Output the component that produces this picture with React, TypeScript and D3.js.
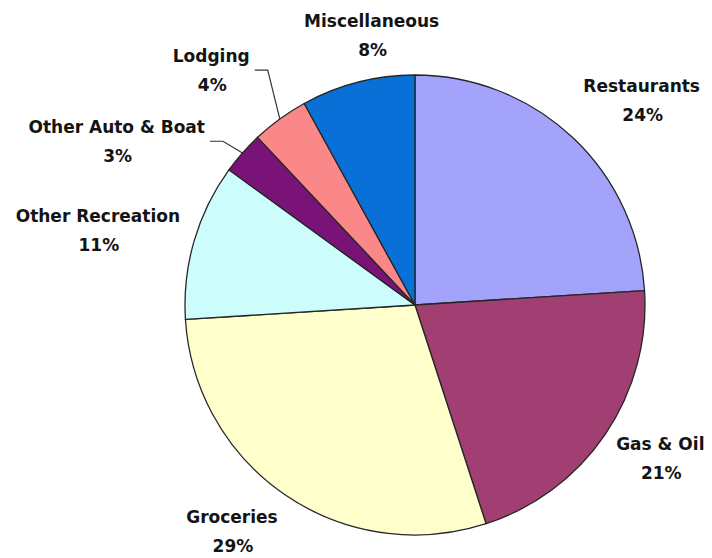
import React, { useEffect, useRef } from "react";
import * as d3 from "d3";

const categories = [
  "Restaurants",
  "Gas & Oil",
  "Groceries",
  "Other Recreation",
  "Other Auto & Boat",
  "Lodging",
  "Miscellaneous",
];
const shares = [24, 21, 29, 11, 3, 4, 8];
const sliceColors = ["#a3a3fc", "#a13f73", "#ffffcc", "#cdfcfc", "#7a1378", "#fa8888", "#0870d6"];
// label layout nudges (px) applied to the outer centroid of each slice
const labelNudge: [number, number][] = [
  [22, 10],
  [-2, -18],
  [-15, -24],
  [-30, 5],
  [-74, 31],
  [-28, 4],
  [31, 17],
];
const hasLeader = [false, false, false, false, true, true, false];

const W = 712;
const H = 558;
const CX = 415;
const CY = 305;
const R = 230;

export default function App() {
  const ref = useRef<SVGSVGElement | null>(null);

  useEffect(() => {
    const svg = d3.select(ref.current);
    svg.selectAll("*").remove();

    const data = categories.map((c, i) => ({ name: c, value: shares[i], i }));
    const pie = d3.pie<any>().value((d) => d.value).sort(null).startAngle(0).endAngle(2 * Math.PI);
    const arcs = pie(data);
    const arc = d3.arc<any>().innerRadius(0).outerRadius(R);
    const labelR = R * 1.3;

    const g = svg.append("g").attr("transform", `translate(${CX},${CY})`);

    g.selectAll("path.slice")
      .data(arcs)
      .enter()
      .append("path")
      .attr("class", "slice")
      .attr("d", arc as any)
      .attr("fill", (d: any) => sliceColors[d.data.i])
      .attr("stroke", "#262626")
      .attr("stroke-width", 1.3)
      .attr("stroke-linejoin", "round");

    const labels = svg.append("g");
    arcs.forEach((a: any) => {
      const i = a.data.i;
      const mid = (a.startAngle + a.endAngle) / 2;
      const ax = CX + Math.sin(mid) * labelR + labelNudge[i][0];
      const ay = CY - Math.cos(mid) * labelR + labelNudge[i][1];
      const t = labels
        .append("text")
        .attr("x", ax)
        .attr("y", ay - 5)
        .attr("text-anchor", "middle")
        .attr("font-family", "'DejaVu Sans', Verdana, sans-serif")
        .attr("font-weight", "bold")
        .attr("font-size", 17)
        .attr("fill", "#141414")
        .text(a.data.name);
      labels
        .append("text")
        .attr("x", ax + 1)
        .attr("y", ay + 24)
        .attr("text-anchor", "middle")
        .attr("font-family", "'DejaVu Sans', Verdana, sans-serif")
        .attr("font-weight", "bold")
        .attr("font-size", 17)
        .attr("fill", "#141414")
        .text(`${a.data.value}%`);

      if (hasLeader[i]) {
        const w = (t.node() as SVGTextElement).getComputedTextLength();
        const right = ax + w / 2;
        const sx = CX + Math.sin(mid) * R;
        const sy = CY - Math.cos(mid) * R;
        const ly = ay + 3;
        const pts: [number, number][] = [
          [right + 5, ly],
          [right + 18, ly],
          [sx, sy],
        ];
        labels
          .append("path")
          .attr("d", d3.line()(pts) as string)
          .attr("fill", "none")
          .attr("stroke", "#333")
          .attr("stroke-width", 1.2);
      }
    });
  }, []);

  return (
    <svg
      ref={ref}
      width={W}
      height={H}
      style={{ position: "absolute", left: 0, top: 0, background: "#fff" }}
    />
  );
}
